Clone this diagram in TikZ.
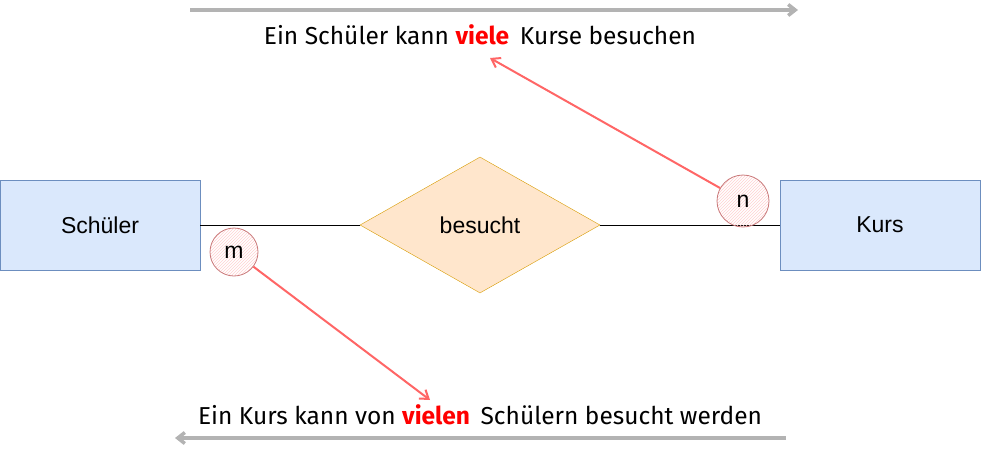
\documentclass[tikz,border=0pt]{standalone}
\usepackage{fontspec}
\setmainfont{Liberation Sans}
\newfontfamily\comicfont{Fira Sans}
\usetikzlibrary{shapes.geometric,arrows.meta,patterns}
\definecolor{entfill}{HTML}{DAE8FC}
\definecolor{entdraw}{HTML}{6C8EBF}
\definecolor{relfill}{HTML}{FFE6CC}
\definecolor{reldraw}{HTML}{D79B00}
\definecolor{arrred}{HTML}{FF6666}
\definecolor{circdraw}{HTML}{C9797A}
\definecolor{graya}{HTML}{B3B3B3}
\tikzset{
  entity/.style={draw=entdraw, fill=entfill, minimum width=200pt, minimum height=90pt, inner sep=0pt, font=\fontsize{23}{27}\selectfont},
  relation/.style={diamond, draw=reldraw, fill=relfill, minimum width=240pt, minimum height=136pt, aspect=1.76, inner sep=0pt, font=\fontsize{23}{27}\selectfont},
  cardcirc/.style={circle, draw=circdraw, line width=0.8pt, pattern={north east lines}, pattern color=red!18, inner sep=0pt, font=\fontsize{23}{27}\selectfont},
  redarrow/.style={draw=arrred, line width=2pt, -{Straight Barb[length=8pt,width=11pt]}},
  grayarrow/.style={draw=graya, line width=3.5pt, -{Straight Barb[length=7pt,width=11pt]}},
  sentence/.style={font=\comicfont\fontsize{24.5}{29}\selectfont, inner sep=0pt},
}
\begin{document}
\begin{tikzpicture}[x=1pt,y=-1pt]
\useasboundingbox (0,0) rectangle (981,450);
\node[entity] (s) at (100,225) {Schüler};
\node[entity] (k) at (880,225) {Kurs};
\node[relation] (b) at (480,225) {besucht};
\draw[line width=1pt] (s.east) -- (b.west);
\draw[line width=1pt] (b.east) -- (k.west);
\node[cardcirc, minimum size=48pt] (m) at (234,252) {m};
\node[cardcirc, minimum size=52pt] (n) at (743,201) {n};
\node[sentence] (t1) at (480,35) {Ein Schüler kann \textcolor{red}{\bfseries viele}\, Kurse besuchen};
\node[sentence] (t2) at (480,415) {Ein Kurs kann von \textcolor{red}{\bfseries vielen}\, Schülern besucht werden};
\coordinate (a1) at (430,400);
\coordinate (a2) at (490,58);
\draw[redarrow] (m) -- (a1);
\draw[redarrow] (n) -- (a2);
\coordinate (g1s) at (190,10);
\coordinate (g1e) at (798,10);
\coordinate (g2s) at (786,438);
\coordinate (g2e) at (175,438);
\draw[grayarrow] (g1s) -- (g1e);
\draw[grayarrow] (g2s) -- (g2e);
\end{tikzpicture}
\end{document}
